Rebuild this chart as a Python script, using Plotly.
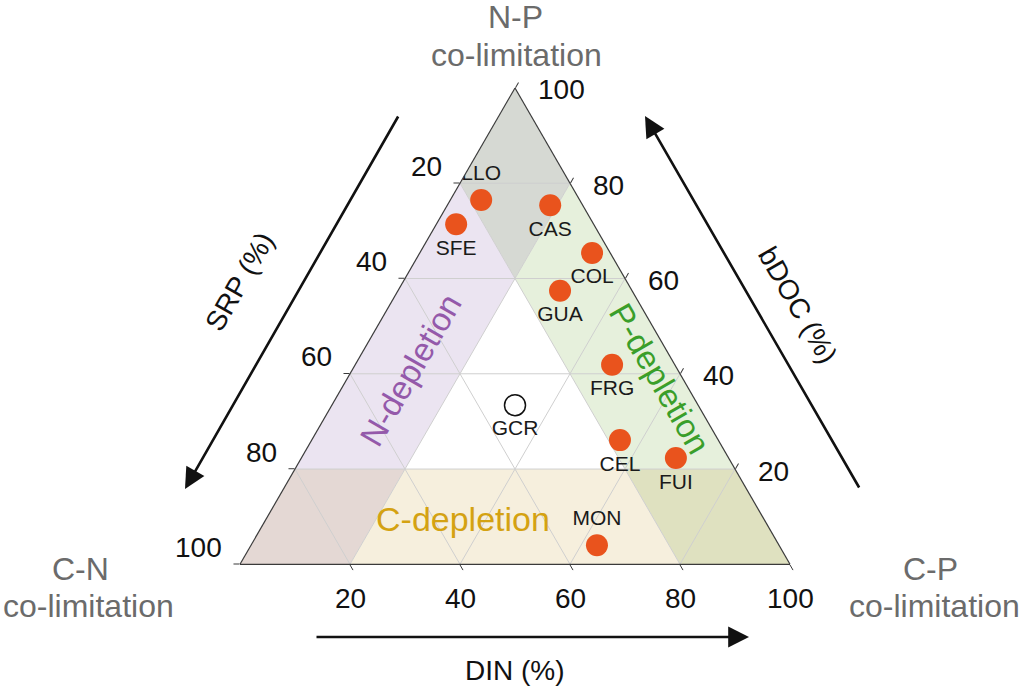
import math
import plotly.graph_objects as go

# ---------------- data ----------------
sites = ["LLO", "SFE", "CAS", "COL", "GUA", "FRG", "CEL", "FUI", "MON"]
bdoc = [76.5, 71.4, 75.4, 65.3, 57.5, 41.9, 26.1, 22.3, 4.0]
srp = [17.9, 25.0, 5.9, 3.3, 13.1, 11.4, 17.9, 9.6, 33.1]
din = [5.6, 3.6, 18.7, 31.3, 29.5, 46.7, 56.1, 68.1, 62.9]
label_pos = ["top center", "bottom center", "bottom center", "bottom center", "bottom center",
             "bottom center", "bottom center", "bottom center", "top center"]

ref_site = ["GCR"]
ref_bdoc = [33.4]
ref_srp = [33.3]
ref_din = [33.3]

grid_vals = [20, 40, 60, 80]
tick_vals = [0, 20, 40, 60, 80]
label_vals = [20, 40, 60, 80, 100]
LIM = 20  # depletion threshold (%)

# ---------------- styles ----------------
FONT = "Liberation Sans, Arial, sans-serif"
W, H = 1024, 697
X0, SIDE, YB = 240.0, 550.0, 564.3          # triangle placement (px)
HT = SIDE * math.sqrt(3) / 2
region_colors = {
    "np": "#D6D9D3", "n": "#EBE4F1", "cn": "#E4D8D4",
    "c": "#F6EFDD", "cp": "#DFE1C0", "p": "#E6F0DC",
}
DOT = "#E9531D"

# region polygons in (bDOC, SRP, DIN)
S = 100
regions = {
    "np": [(S, 0, 0), (S - LIM, LIM, 0), (S - 2 * LIM, LIM, LIM), (S - LIM, 0, LIM)],
    "n": [(S - LIM, LIM, 0), (LIM, S - LIM, 0), (LIM, S - 2 * LIM, LIM), (S - 2 * LIM, LIM, LIM)],
    "cn": [(LIM, S - LIM, 0), (0, S, 0), (0, S - LIM, LIM), (LIM, S - 2 * LIM, LIM)],
    "c": [(LIM, S - 2 * LIM, LIM), (0, S - LIM, LIM), (0, LIM, S - LIM), (LIM, LIM, S - 2 * LIM)],
    "cp": [(LIM, LIM, S - 2 * LIM), (0, LIM, S - LIM), (0, 0, S), (LIM, 0, S - LIM)],
    "p": [(S - LIM, 0, LIM), (S - 2 * LIM, LIM, LIM), (LIM, LIM, S - 2 * LIM), (LIM, 0, S - LIM)],
}

fig = go.Figure()
for key, pts in regions.items():
    pts = pts + [pts[0]]
    fig.add_trace(go.Scatterternary(
        a=[p[0] for p in pts], b=[p[1] for p in pts], c=[p[2] for p in pts],
        mode="lines", fill="toself", fillcolor=region_colors[key],
        line=dict(width=0, color=region_colors[key]), hoverinfo="skip", showlegend=False))

# grid lines
ga, gb, gc = [], [], []
for v in grid_vals:
    ga += [v, v, None]; gb += [S - v, 0, None]; gc += [0, S - v, None]
    ga += [S - v, 0, None]; gb += [v, v, None]; gc += [0, S - v, None]
    ga += [S - v, 0, None]; gb += [0, S - v, None]; gc += [v, v, None]
fig.add_trace(go.Scatterternary(a=ga, b=gb, c=gc, mode="lines",
                                line=dict(color="#CFCFCF", width=1),
                                hoverinfo="skip", showlegend=False))

fig.add_trace(go.Scatterternary(
    a=bdoc, b=srp, c=din, text=sites, mode="markers+text", textposition=label_pos,
    marker=dict(size=22, color=DOT, line=dict(width=0)),
    textfont=dict(family=FONT, size=21, color="#1a1a1a"), showlegend=False))
fig.add_trace(go.Scatterternary(
    a=ref_bdoc, b=ref_srp, c=ref_din, text=ref_site, mode="markers+text",
    textposition="bottom center",
    marker=dict(size=21, color="white", line=dict(width=1.5, color="#111")),
    textfont=dict(family=FONT, size=21, color="#1a1a1a"), showlegend=False))

axis_common = dict(
    showgrid=False, showline=True, linecolor="#3a3a3a", linewidth=1.2,
    ticks="outside", ticklen=6, tickcolor="#3a3a3a", tickwidth=1,
    tickmode="array", tickvals=tick_vals, showticklabels=False,
    layer="above traces", min=0, title=dict(text=""),
)

fig.update_layout(
    width=W, height=H, paper_bgcolor="white",
    margin=dict(l=0, r=0, t=0, b=0),
    font=dict(family=FONT),
    ternary=dict(
        sum=S, bgcolor="white",
        domain=dict(x=[X0 / W, (X0 + SIDE) / W], y=[(H - YB) / H, (H - YB + HT) / H]),
        aaxis=axis_common, baxis=axis_common, caxis=axis_common,
    ),
)


def px(x, y):
    return x / W, 1 - y / H


def tern_px(a, b, c):
    """pixel position of a ternary point (used for placing tick labels)"""
    a, b, c = a / S, b / S, c / S
    x = X0 + SIDE * (c + a / 2)
    y = YB - HT * a
    return x, y


annotations = []


def txt(x, y, s, size, color, angle=0, xanchor="center"):
    xx, yy = px(x, y)
    annotations.append(dict(x=xx, y=yy, xref="paper", yref="paper", text=s, showarrow=False,
                            textangle=angle, xanchor=xanchor, yanchor="middle",
                            font=dict(family=FONT, size=size, color=color)))


def arrow(x_tip, y_tip, x_tail, y_tail):
    xx, yy = px(x_tip, y_tip)
    annotations.append(dict(x=xx, y=yy, xref="paper", yref="paper", text="", showarrow=True,
                            ax=x_tail - x_tip, ay=y_tail - y_tip, arrowhead=2, arrowsize=1.6,
                            arrowwidth=2.6, arrowcolor="#111", standoff=0))


# tick labels: SRP on left edge, DIN on bottom edge, bDOC on right edge
TF = 28
for v in label_vals:
    x, y = tern_px(S - v, v, 0)
    txt(x - 16, y - 17, str(v), TF, "#111", xanchor="right")
    x, y = tern_px(0, S - v, v)
    txt(x, y + 34, str(v), TF, "#111")
    x, y = tern_px(v, 0, S - v)
    txt(x + 21, y + 2, str(v), TF, "#111", xanchor="left")

GRAY = "#6b6b6b"
txt(515, 17, "N-P", 32, GRAY)
txt(516, 55, "co-limitation", 32, GRAY)
txt(80, 569, "C-N", 32, GRAY)
txt(88, 606, "co-limitation", 32, GRAY)
txt(930, 569, "C-P", 32, GRAY)
txt(934, 606, "co-limitation", 32, GRAY)
txt(240, 282, "SRP (%)", 28, "#111", -60)
txt(797, 305, "bDOC (%)", 28, "#111", 60)
txt(515, 670, "DIN (%)", 28, "#111")
txt(410, 370, "N-depletion", 33, "#9459AA", -60)
txt(660, 378, "P-depletion", 33, "#3A9E2A", 60)
txt(463, 519, "C-depletion", 34, "#D4A212")
arrow(185, 489, 399, 115)
arrow(645, 116, 860, 489)
arrow(749, 637, 315, 637)

fig.update_layout(annotations=annotations)
fig.write_html("out.html", config={"displayModeBar": False},
               post_script="document.body.style.margin='0';")
